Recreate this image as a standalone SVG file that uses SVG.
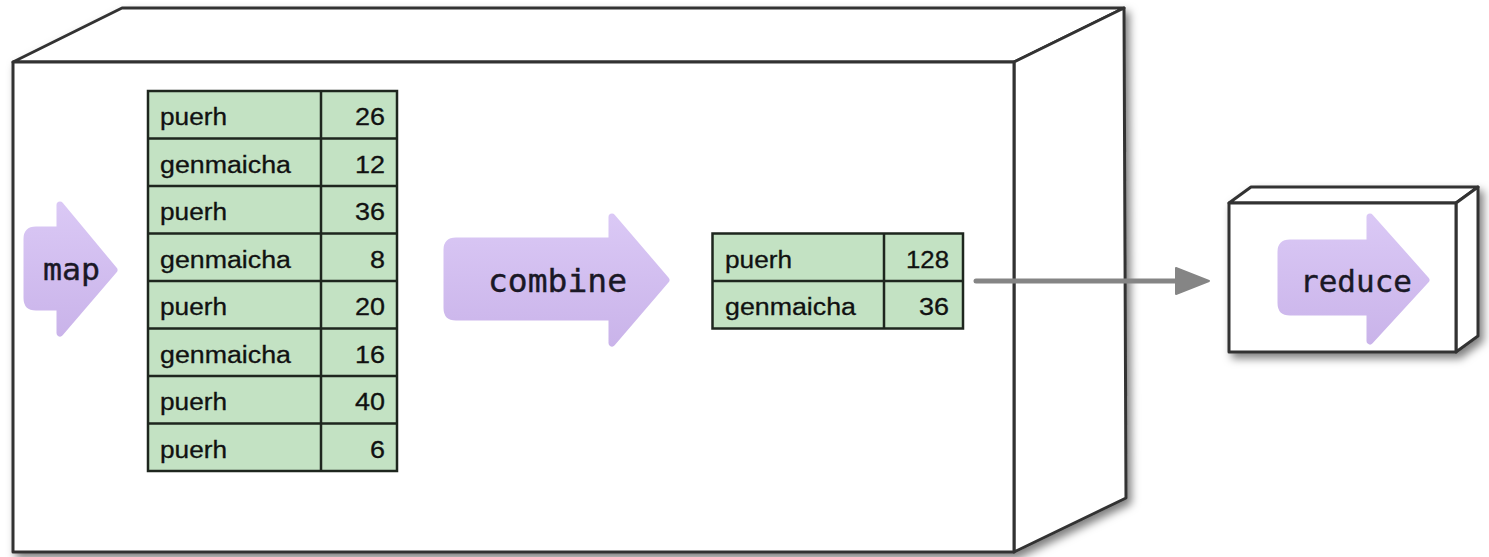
<svg xmlns="http://www.w3.org/2000/svg" width="1489" height="557" viewBox="0 0 1489 557">
<style>
.box{fill:#fff;stroke:#333;stroke-width:3;stroke-linejoin:round}
.cell{fill:#c3e2c3;stroke:#1e261e;stroke-width:2.5}
.grid{stroke:#1e261e;stroke-width:2.5;fill:none}
.t{font-family:"Liberation Sans",Arial,sans-serif;font-size:23px;fill:#111;stroke:#111;stroke-width:0.3}
.n{font-family:"Liberation Sans",Arial,sans-serif;font-size:23px;fill:#111;stroke:#111;stroke-width:0.3;text-anchor:end}
.op{fill:url(#pg);stroke:url(#pg);stroke-width:7;stroke-linejoin:round}
.opt{font-family:"DejaVu Sans Mono",monospace;fill:#1a1826;stroke:#1a1826;stroke-width:0.4}
.conn{stroke:#858585;stroke-width:5;stroke-linecap:round;fill:none}
</style>
<defs>
<linearGradient id="pg" x1="0" y1="0" x2="0" y2="1">
<stop offset="0" stop-color="#dac8f5"/>
<stop offset="1" stop-color="#cab4ea"/>
</linearGradient>
<filter id="sh" x="-5%" y="-5%" width="115%" height="120%">
<feDropShadow dx="4" dy="5" stdDeviation="4" flood-color="#000" flood-opacity="0.5"/>
</filter>
</defs>

<g id="worker-box" filter="url(#sh)">
<polygon class="box" points="13,62 122,8 1124,8 1014,62"/>
<polygon class="box" points="1014,62 1124,8 1126,498 1014,552"/>
<rect class="box" x="13" y="62" width="1001" height="490"/>
</g>

<g id="reduce-box" filter="url(#sh)">
<polygon class="box" points="1229,203 1251,187 1478,187 1456,203"/>
<polygon class="box" points="1456,203 1478,187 1478,336 1456,352"/>
<rect class="box" x="1229" y="203" width="227" height="149"/>
</g>

<g id="map">
<path class="op" d="M36,230 L60,230 L60,205 L114,270 L60,333 L60,307 L36,307 Q27,307 27,298 L27,239 Q27,230 36,230 Z"/>
<text class="opt" x="43" y="280" font-size="30" textLength="57" lengthAdjust="spacingAndGlyphs">map</text>
</g>

<g id="map-output">
<rect class="cell" x="148" y="91" width="249" height="380"/>
<path class="grid" d="M321,91 V471 M148,138.5 H397 M148,186 H397 M148,233.5 H397 M148,281 H397 M148,328.5 H397 M148,376 H397 M148,423.5 H397"/>
<text class="t" x="160" y="125" textLength="67" lengthAdjust="spacingAndGlyphs">puerh</text>
<text class="n" x="385" y="125" textLength="30" lengthAdjust="spacingAndGlyphs">26</text>
<text class="t" x="160" y="172.5" textLength="131" lengthAdjust="spacingAndGlyphs">genmaicha</text>
<text class="n" x="385" y="172.5" textLength="30" lengthAdjust="spacingAndGlyphs">12</text>
<text class="t" x="160" y="220" textLength="67" lengthAdjust="spacingAndGlyphs">puerh</text>
<text class="n" x="385" y="220" textLength="30" lengthAdjust="spacingAndGlyphs">36</text>
<text class="t" x="160" y="267.5" textLength="131" lengthAdjust="spacingAndGlyphs">genmaicha</text>
<text class="n" x="385" y="267.5" textLength="15" lengthAdjust="spacingAndGlyphs">8</text>
<text class="t" x="160" y="315" textLength="67" lengthAdjust="spacingAndGlyphs">puerh</text>
<text class="n" x="385" y="315" textLength="30" lengthAdjust="spacingAndGlyphs">20</text>
<text class="t" x="160" y="362.5" textLength="131" lengthAdjust="spacingAndGlyphs">genmaicha</text>
<text class="n" x="385" y="362.5" textLength="30" lengthAdjust="spacingAndGlyphs">16</text>
<text class="t" x="160" y="410" textLength="67" lengthAdjust="spacingAndGlyphs">puerh</text>
<text class="n" x="385" y="410" textLength="30" lengthAdjust="spacingAndGlyphs">40</text>
<text class="t" x="160" y="457.5" textLength="67" lengthAdjust="spacingAndGlyphs">puerh</text>
<text class="n" x="385" y="457.5" textLength="15" lengthAdjust="spacingAndGlyphs">6</text>
</g>

<g id="combine">
<path class="op" d="M456,241 L612,241 L612,217 L666,280 L612,343 L612,317 L456,317 Q447,317 447,308 L447,250 Q447,241 456,241 Z"/>
<text class="opt" x="488" y="292" font-size="32" textLength="139" lengthAdjust="spacingAndGlyphs">combine</text>
</g>

<g id="combine-output">
<rect class="cell" x="712.5" y="233.5" width="250.5" height="95"/>
<path class="grid" d="M884,233.5 V328.5 M712.5,281 H963"/>
<text class="t" x="725" y="267.5" textLength="67" lengthAdjust="spacingAndGlyphs">puerh</text>
<text class="n" x="949" y="267.5" textLength="43" lengthAdjust="spacingAndGlyphs">128</text>
<text class="t" x="725" y="315" textLength="131" lengthAdjust="spacingAndGlyphs">genmaicha</text>
<text class="n" x="949" y="315" textLength="30" lengthAdjust="spacingAndGlyphs">36</text>
</g>

<g id="reduce">
<path class="op" d="M1290,243 L1370,243 L1370,217 L1426,280 L1370,341 L1370,312 L1290,312 Q1281,312 1281,303 L1281,252 Q1281,243 1290,243 Z"/>
<text class="opt" x="1300" y="292" font-size="31" textLength="112" lengthAdjust="spacingAndGlyphs">reduce</text>
</g>

<g id="connectors">
<line class="conn" x1="976" y1="281" x2="1180" y2="281"/>
<polygon points="1176,268 1209,281 1176,294" fill="#858585" stroke="#858585" stroke-width="2" stroke-linejoin="round"/>
</g>
</svg>
